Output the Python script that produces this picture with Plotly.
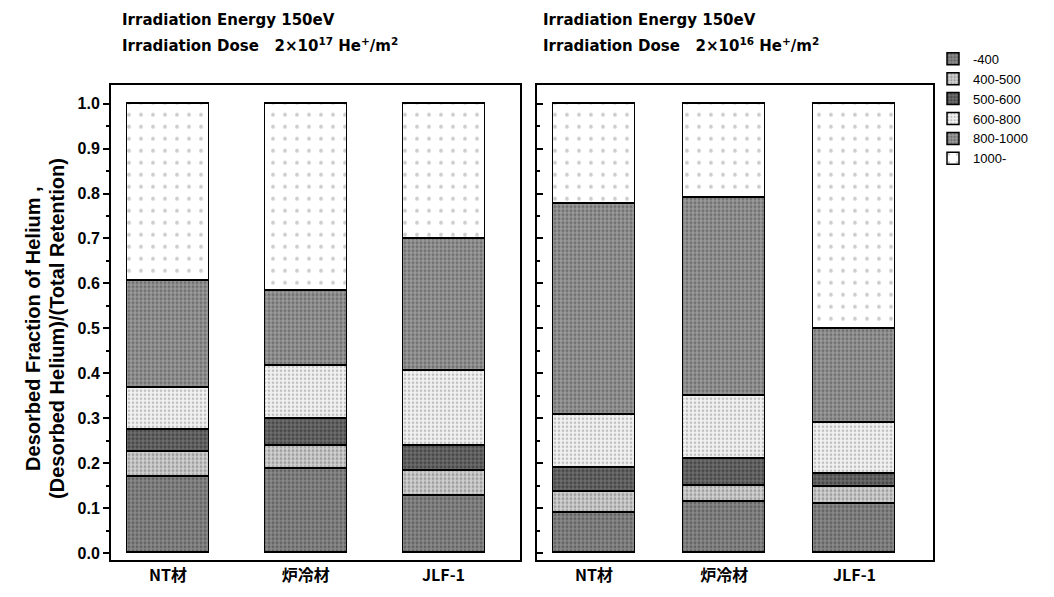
import plotly.graph_objects as go

categories = ["NT材", "炉冷材", "JLF-1"]
ranges = ["-400", "400-500", "500-600", "600-800", "800-1000", "1000-"]

# fractions per temperature range (left: 2x10^17, right: 2x10^16)
left_vals = {
    "-400":     [0.170, 0.188, 0.127],
    "400-500":  [0.055, 0.050, 0.056],
    "500-600":  [0.050, 0.060, 0.055],
    "600-800":  [0.092, 0.118, 0.167],
    "800-1000": [0.238, 0.167, 0.295],
    "1000-":    [0.395, 0.417, 0.300],
}
right_vals = {
    "-400":     [0.090, 0.115, 0.111],
    "400-500":  [0.047, 0.034, 0.037],
    "500-600":  [0.053, 0.061, 0.029],
    "600-800":  [0.118, 0.140, 0.113],
    "800-1000": [0.470, 0.440, 0.210],
    "1000-":    [0.222, 0.210, 0.500],
}

styles = {
    "-400":     dict(bg="#8a8a8a", fg="#3a3a3a", size=4, sol=0.45),
    "400-500":  dict(bg="#d0d0d0", fg="#6a6a6a", size=4, sol=0.4),
    "500-600":  dict(bg="#6e6e6e", fg="#202020", size=4, sol=0.5),
    "600-800":  dict(bg="#f2f2f2", fg="#8a8a8a", size=4, sol=0.35),
    "800-1000": dict(bg="#9a9a9a", fg="#444444", size=4, sol=0.45),
    "1000-":    dict(bg="#ffffff", fg="#9a9a9a", size=12, sol=0.08),
}

fig = go.Figure()
xpos = [0, 1, 2]
for panel, vals, xa, ya, w in [("L", left_vals, "x", "y", 0.595), ("R", right_vals, "x2", "y2", 0.63)]:
    for r in ranges:
        s = styles[r]
        fig.add_trace(go.Bar(
            x=xpos, y=vals[r], name=r, xaxis=xa, yaxis=ya, width=w,
            marker=dict(color=s["bg"], line=dict(color="black", width=1.5),
                        pattern=dict(shape=".", bgcolor=s["bg"], fgcolor=s["fg"],
                                     size=s["size"], solidity=s["sol"], fillmode="overlay")),
            showlegend=(panel == "L"), legendgroup=r,
        ))

W, H = 1054, 597
def px(x): return x / W
def py(y): return 1 - y / H

ytop, ybot = 85, 562
y0pix, y1pix = 555, 104
per = (y0pix - y1pix)
yr = [(y0pix - ybot) / per, (y0pix - ytop) / per]

tickfont = dict(family="Liberation Sans, Arial", size=16, color="black", weight="bold")
common_y = dict(range=yr, showgrid=False, zeroline=False, showline=True, linecolor="black",
                linewidth=2, mirror=True, ticklen=6, tickwidth=1.5,
                tickcolor="black", dtick=0.1, tickformat=".1f")
common_x = dict(showgrid=False, zeroline=False, showline=True, linecolor="black", linewidth=2,
                mirror=True, ticks="", tickmode="array", tickvals=xpos, ticktext=categories,
                tickfont=dict(family="Noto Sans CJK JP", size=16, color="black", weight="bold"))

fig.update_layout(
    width=W, height=H, margin=dict(l=0, r=0, t=0, b=0),
    plot_bgcolor="white", paper_bgcolor="white", barmode="stack", bargap=0,
    xaxis=dict(domain=[px(111), px(520)], range=[-0.414, 2.555], anchor="y", **common_x),
    xaxis2=dict(domain=[px(537), px(933)], range=[-0.4376, 2.603], anchor="y2", **common_x),
    yaxis=dict(domain=[py(ybot), py(ytop)], anchor="x", tickfont=tickfont, ticks="outside",
               minor=dict(ticks="outside", ticklen=3, dtick=0.05, tickcolor="black"), **common_y),
    yaxis2=dict(domain=[py(ybot), py(ytop)], anchor="x2", showticklabels=False, ticks="inside",
                minor=dict(ticks="inside", ticklen=3, dtick=0.05, tickcolor="black"), **common_y),
    legend=dict(x=px(933), y=py(44), xanchor="left", yanchor="top", traceorder="normal",
                font=dict(family="Liberation Sans, Arial", size=13, color="black"),
                itemwidth=30, tracegroupgap=0, bgcolor="rgba(0,0,0,0)"),
    showlegend=True,
)

title_font = dict(family="DejaVu Sans", size=15, color="black", weight="bold")
for xx, exp in [(120, "17"), (541, "16")]:
    fig.add_annotation(x=px(xx), y=py(20), xref="paper", yref="paper", xanchor="left", yanchor="middle",
                       text="Irradiation Energy 150eV", showarrow=False, font=title_font)
    fig.add_annotation(x=px(xx), y=py(45), xref="paper", yref="paper", xanchor="left", yanchor="middle",
                       text="Irradiation Dose \u00a0 2×10<sup>%s</sup> He<sup>+</sup>/m<sup>2</sup>" % exp,
                       showarrow=False, font=title_font)

ytitle_font = dict(family="Liberation Sans, Arial", size=20, color="black", weight="bold")
fig.add_annotation(x=px(33), y=py(330), xref="paper", yref="paper", textangle=-90,
                   xanchor="center", yanchor="middle",
                   text="Desorbed Fraction of Helium ,", showarrow=False, font=ytitle_font)
fig.add_annotation(x=px(57), y=py(330), xref="paper", yref="paper", textangle=-90,
                   xanchor="center", yanchor="middle",
                   text="(Desorbed Helium)/(Total Retention)", showarrow=False, font=ytitle_font)

fig.write_html("out.html")
